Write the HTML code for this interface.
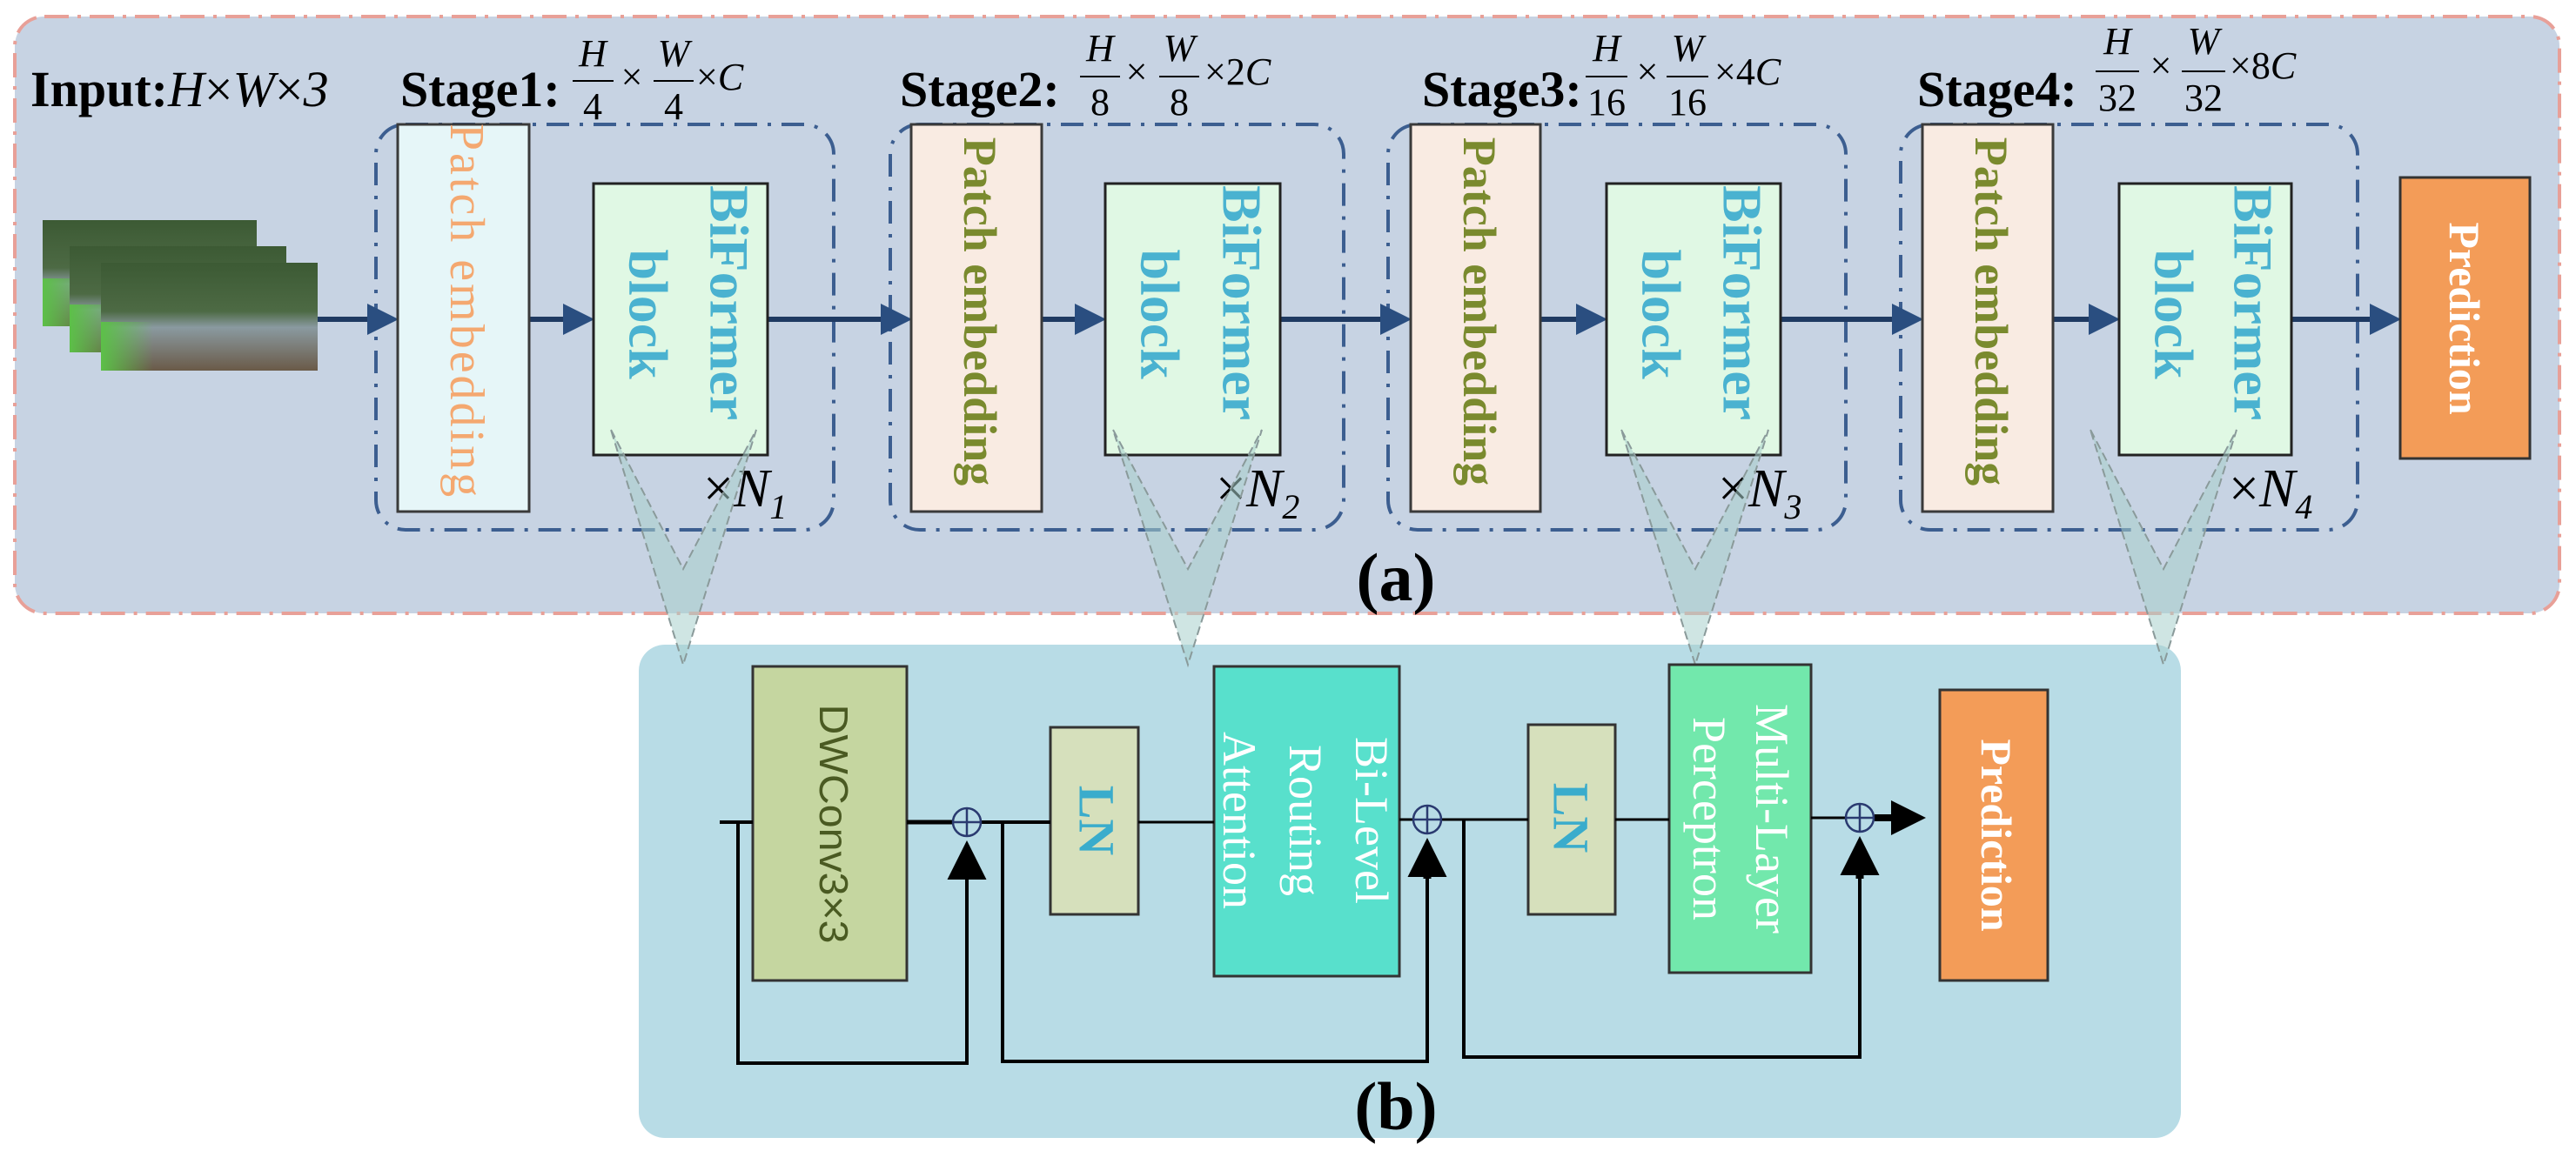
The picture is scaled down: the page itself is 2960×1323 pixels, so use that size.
<!DOCTYPE html>
<html><head><meta charset="utf-8"><style>html,body{margin:0;padding:0;background:#fff}svg{display:block}</style></head>
<body>
<svg width="2960" height="1323" viewBox="0 0 2960 1323" xmlns="http://www.w3.org/2000/svg">
<defs>
<marker id="ah" markerWidth="6" markerHeight="6" refX="5" refY="3" orient="auto" markerUnits="strokeWidth"><path d="M0,0 L6,3 L0,6 z" fill="#2a4e80"/></marker>
<marker id="bk" markerWidth="5" markerHeight="5" refX="4" refY="2.5" orient="auto" markerUnits="strokeWidth"><path d="M0,0 L5,2.5 L0,5 z" fill="#000"/></marker>
<linearGradient id="ph" x1="0" y1="0" x2="0" y2="1"><stop offset="0" stop-color="#3c5a34"/><stop offset="0.45" stop-color="#4d6a44"/><stop offset="0.6" stop-color="#8a9aa0"/><stop offset="1" stop-color="#6a5a48"/></linearGradient>
<linearGradient id="pl" x1="0" y1="0" x2="1" y2="0"><stop offset="0" stop-color="#5cc048"/><stop offset="1" stop-color="#5cc048" stop-opacity="0"/></linearGradient>
</defs>
<rect x="17" y="19" width="2924" height="686" rx="34" fill="#c7d3e3" stroke="#e8a098" stroke-width="4" stroke-dasharray="28,10,4,10"/>
<rect x="734" y="741" width="1772" height="567" rx="30" fill="#b8dce6"/>

<g>
<rect x="49" y="253" width="246" height="122" fill="url(#ph)"/><rect x="49" y="320" width="60" height="55" fill="url(#pl)"/>
<rect x="80" y="283" width="249" height="122" fill="url(#ph)"/><rect x="80" y="350" width="60" height="55" fill="url(#pl)"/>
<rect x="116" y="302" width="249" height="124" fill="url(#ph)"/><rect x="116" y="370" width="60" height="56" fill="url(#pl)"/>
</g>

<g font-family="Liberation Serif, serif" fill="#000">
<text x="35" y="122" font-size="58" font-weight="bold">Input:<tspan font-weight="normal" font-style="italic">H</tspan><tspan font-weight="normal">×</tspan><tspan font-weight="normal" font-style="italic">W</tspan><tspan font-weight="normal">×</tspan><tspan font-weight="normal" font-style="italic">3</tspan></text>
<text x="460" y="122" font-size="58" font-weight="bold">Stage1:</text>
<text x="1034" y="122" font-size="58" font-weight="bold">Stage2:</text>
<text x="1634" y="122" font-size="58" font-weight="bold">Stage3:</text>
<text x="2203" y="122" font-size="58" font-weight="bold">Stage4:</text>
<g font-size="44" text-anchor="middle">
<text x="681" y="76" font-style="italic">H</text><line x1="658" y1="93" x2="705" y2="93" stroke="#000" stroke-width="2"/><text x="681" y="137">4</text>
<text x="726" y="103">×</text>
<text x="774" y="76" font-style="italic">W</text><line x1="751" y1="93" x2="797" y2="93" stroke="#000" stroke-width="2"/><text x="774" y="137">4</text>
<text x="800" y="103" text-anchor="start">×<tspan font-style="italic">C</tspan></text>
<text x="1264" y="70" font-style="italic">H</text><line x1="1241" y1="88" x2="1287" y2="88" stroke="#000" stroke-width="2"/><text x="1264" y="132">8</text>
<text x="1306" y="97">×</text>
<text x="1355" y="70" font-style="italic">W</text><line x1="1332" y1="88" x2="1378" y2="88" stroke="#000" stroke-width="2"/><text x="1355" y="132">8</text>
<text x="1384" y="97" text-anchor="start">×2<tspan font-style="italic">C</tspan></text>
<text x="1846" y="70" font-style="italic">H</text><line x1="1822" y1="88" x2="1870" y2="88" stroke="#000" stroke-width="2"/><text x="1846" y="132">16</text>
<text x="1893" y="97">×</text>
<text x="1939" y="70" font-style="italic">W</text><line x1="1915" y1="88" x2="1963" y2="88" stroke="#000" stroke-width="2"/><text x="1939" y="132">16</text>
<text x="1970" y="97" text-anchor="start">×4<tspan font-style="italic">C</tspan></text>
<text x="2433" y="62" font-style="italic">H</text><line x1="2408" y1="82" x2="2458" y2="82" stroke="#000" stroke-width="2"/><text x="2433" y="127">32</text>
<text x="2483" y="90">×</text>
<text x="2532" y="62" font-style="italic">W</text><line x1="2507" y1="82" x2="2557" y2="82" stroke="#000" stroke-width="2"/><text x="2532" y="127">32</text>
<text x="2562" y="90" text-anchor="start">×8<tspan font-style="italic">C</tspan></text>
</g>
</g>

<g fill="none" stroke="#3c5e90" stroke-width="4" stroke-dasharray="26,12,4,12">
<rect x="432" y="143" width="526" height="466" rx="34"/>
<rect x="1023" y="143" width="521" height="466" rx="34"/>
<rect x="1595" y="143" width="526" height="466" rx="34"/>
<rect x="2184" y="143" width="525" height="466" rx="34"/>
</g>

<g stroke="#1f3a62" stroke-width="6" marker-end="url(#ah)">
<line x1="365" y1="367" x2="452" y2="367"/>
<line x1="608" y1="367" x2="677" y2="367"/>
<line x1="882" y1="367" x2="1042" y2="367"/>
<line x1="1197" y1="367" x2="1265" y2="367"/>
<line x1="1471" y1="367" x2="1616" y2="367"/>
<line x1="1770" y1="367" x2="1841" y2="367"/>
<line x1="2046" y1="367" x2="2204" y2="367"/>
<line x1="2359" y1="367" x2="2430" y2="367"/>
<line x1="2633" y1="367" x2="2753" y2="367"/>
</g>

<g stroke="#3a3a3a" stroke-width="3">
<rect x="457" y="143" width="151" height="445" fill="#e6f6f8"/>
<rect x="1047" y="143" width="150" height="445" fill="#f9ebe2"/>
<rect x="1621" y="143" width="149" height="445" fill="#f9ebe2"/>
<rect x="2209" y="143" width="150" height="445" fill="#f9ebe2"/>
</g>
<g font-family="Liberation Serif, serif" dominant-baseline="central" text-anchor="middle">
<text transform="translate(536,358) rotate(90)" font-size="56" fill="#f4a870" letter-spacing="3">Patch embedding</text>
<text transform="translate(1126,358) rotate(90)" font-size="54" font-weight="bold" fill="#7a8a2e">Patch embedding</text>
<text transform="translate(1700,358) rotate(90)" font-size="54" font-weight="bold" fill="#7a8a2e">Patch embedding</text>
<text transform="translate(2288,358) rotate(90)" font-size="54" font-weight="bold" fill="#7a8a2e">Patch embedding</text>
</g>

<g stroke="#222" stroke-width="3" fill="#e0f8e4">
<rect x="682" y="211" width="200" height="312"/>
<rect x="1270" y="211" width="201" height="312"/>
<rect x="1846" y="211" width="200" height="312"/>
<rect x="2435" y="211" width="198" height="312"/>
</g>
<g font-family="Liberation Serif, serif" font-weight="bold" fill="#4ab2d0" dominant-baseline="central" font-size="64">
<text transform="translate(838,213) rotate(90)">BiFormer</text>
<text transform="translate(745,361) rotate(90)" text-anchor="middle">block</text>
<text transform="translate(1427,213) rotate(90)">BiFormer</text>
<text transform="translate(1333,361) rotate(90)" text-anchor="middle">block</text>
<text transform="translate(2002,213) rotate(90)">BiFormer</text>
<text transform="translate(1909,361) rotate(90)" text-anchor="middle">block</text>
<text transform="translate(2589,213) rotate(90)">BiFormer</text>
<text transform="translate(2498,361) rotate(90)" text-anchor="middle">block</text>
</g>
<g font-family="Liberation Serif, serif" font-size="62" fill="#000">
<text x="808" y="582">×<tspan font-style="italic">N</tspan><tspan font-style="italic" font-size="40" dy="14">1</tspan></text>
<text x="1397" y="582">×<tspan font-style="italic">N</tspan><tspan font-style="italic" font-size="40" dy="14">2</tspan></text>
<text x="1974" y="582">×<tspan font-style="italic">N</tspan><tspan font-style="italic" font-size="40" dy="14">3</tspan></text>
<text x="2561" y="582">×<tspan font-style="italic">N</tspan><tspan font-style="italic" font-size="40" dy="14">4</tspan></text>
</g>

<rect x="2758" y="204" width="149" height="323" fill="#f39c58" stroke="#333" stroke-width="3"/>
<text transform="translate(2832,366) rotate(90)" font-family="Liberation Serif, serif" font-weight="bold" font-size="50" fill="#fff" text-anchor="middle" dominant-baseline="central">Prediction</text>

<text x="1604" y="690" font-family="Liberation Serif, serif" font-weight="bold" font-size="78" text-anchor="middle">(a)</text>

<g fill="#a8cfcc" fill-opacity="0.55" stroke="#8a9a9a" stroke-width="2" stroke-dasharray="10,5">
<polygon points="702,494 785,654 869,494 785,764"/>
<polygon points="1279,494 1365,654 1450,494 1365,764"/>
<polygon points="1863,494 1948,654 2032,494 1948,764"/>
<polygon points="2402,494 2486,654 2570,494 2486,764"/>
</g>

<g stroke="#333" stroke-width="3">
<rect x="865" y="766" width="177" height="361" fill="#c5d6a0"/>
<rect x="1207" y="836" width="101" height="215" fill="#d6e0bc"/>
<rect x="1395" y="766" width="213" height="356" fill="#58e0cc"/>
<rect x="1756" y="833" width="100" height="218" fill="#d6e0bc"/>
<rect x="1918" y="764" width="163" height="354" fill="#72e8ac"/>
<rect x="2229" y="793" width="124" height="334" fill="#f39c58"/>
</g>

<g stroke="#000" fill="none">
<line x1="827" y1="945" x2="865" y2="945" stroke-width="4"/>
<line x1="1042" y1="945" x2="1094" y2="945" stroke-width="5"/>
<line x1="1128" y1="945" x2="1207" y2="945" stroke-width="4"/>
<line x1="1308" y1="945" x2="1395" y2="945" stroke-width="3"/>
<line x1="1608" y1="942" x2="1623" y2="942" stroke-width="3"/>
<line x1="1657" y1="942" x2="1756" y2="942" stroke-width="3"/>
<line x1="1856" y1="942" x2="1918" y2="942" stroke-width="3"/>
<line x1="2081" y1="940" x2="2120" y2="940" stroke-width="3"/>
<polyline points="848,945 848,1222 1111,1222 1111,1000" stroke-width="4"/>
<polyline points="1152,945 1152,1220 1640,1220 1640,1000" stroke-width="4"/>
<polyline points="1682,942 1682,1215 2137,1215 2137,1000" stroke-width="4"/>
<line x1="1111" y1="1010" x2="1111" y2="975" stroke-width="9" marker-end="url(#bk)"/>
<line x1="1640" y1="1010" x2="1640" y2="972" stroke-width="9" marker-end="url(#bk)"/>
<line x1="2137" y1="1010" x2="2137" y2="970" stroke-width="9" marker-end="url(#bk)"/>
<line x1="2154" y1="940" x2="2205" y2="940" stroke-width="8" marker-end="url(#bk)"/>
</g>
<g fill="none" stroke="#2a3a70" stroke-width="2.5">
<circle cx="1111" cy="945" r="16"/><line x1="1095" y1="945" x2="1127" y2="945"/><line x1="1111" y1="929" x2="1111" y2="961"/>
<circle cx="1640" cy="942" r="16"/><line x1="1624" y1="942" x2="1656" y2="942"/><line x1="1640" y1="926" x2="1640" y2="958"/>
<circle cx="2137" cy="940" r="16"/><line x1="2121" y1="940" x2="2153" y2="940"/><line x1="2137" y1="924" x2="2137" y2="956"/>
</g>

<text transform="translate(958,947) rotate(90)" font-family="Liberation Sans, sans-serif" font-size="46" fill="#4a5a22" text-anchor="middle" dominant-baseline="central" textLength="275" lengthAdjust="spacingAndGlyphs">DWConv3×3</text>
<g font-family="Liberation Serif, serif" dominant-baseline="central" text-anchor="middle">
<text transform="translate(1260,943) rotate(90)" font-size="58" font-weight="bold" fill="#3aaccc">LN</text>
<text transform="translate(1805,940) rotate(90)" font-size="58" font-weight="bold" fill="#3aaccc">LN</text>
<text transform="translate(1576,943) rotate(90)" font-size="54" fill="#fff">Bi-Level</text>
<text transform="translate(1500,943) rotate(90)" font-size="54" fill="#fff">Routing</text>
<text transform="translate(1424,943) rotate(90)" font-size="54" fill="#fff">Attention</text>
<text transform="translate(2036,941) rotate(90)" font-size="54" fill="#fff">Multi-Layer</text>
<text transform="translate(1964,941) rotate(90)" font-size="54" fill="#fff">Perceptron</text>
<text transform="translate(2294,960) rotate(90)" font-size="50" font-weight="bold" fill="#fff">Prediction</text>
</g>
<text x="1604" y="1298" font-family="Liberation Serif, serif" font-weight="bold" font-size="78" text-anchor="middle">(b)</text>
</svg>
</body></html>
